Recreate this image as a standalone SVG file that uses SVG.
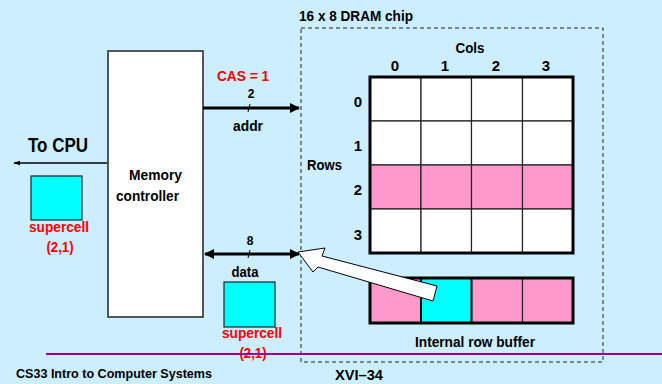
<svg xmlns="http://www.w3.org/2000/svg" width="662" height="384" viewBox="0 0 662 384">
<style>
text{font-family:"Liberation Sans",Arial,sans-serif;font-weight:bold;fill:#000}
.t{font-size:15px}
.red{fill:#ff0000}
.cell{fill:#fff;stroke:#222;stroke-width:1.2}
.pink{fill:#ff99cc}
.sq{fill:#00ffff;stroke:#222;stroke-width:1.2}
.bus{stroke:#000;stroke-width:3;fill:none}
</style>
<defs>
<marker id="ah" viewBox="0 0 10 10" refX="9" refY="5" markerWidth="10" markerHeight="10" markerUnits="userSpaceOnUse" orient="auto-start-reverse">
<path d="M0,0 L10,5 L0,10 z" fill="#000"/>
</marker>
<marker id="ahs" viewBox="0 0 10 10" refX="9" refY="5" markerWidth="7" markerHeight="7" markerUnits="userSpaceOnUse" orient="auto">
<path d="M0,1.5 L10,5 L0,8.5 z" fill="#000"/>
</marker>
</defs>
<rect x="0" y="0" width="662" height="384" fill="#cceeff"/>

<g id="chip">
<rect x="301" y="28" width="302" height="334" fill="none" stroke="#222" stroke-width="1" stroke-dasharray="4,3"/>
<text class="t" x="299" y="21" textLength="114" lengthAdjust="spacingAndGlyphs">16 x 8 DRAM chip</text>
</g>

<g id="array">
<text class="t" x="470" y="53" text-anchor="middle" textLength="29" lengthAdjust="spacingAndGlyphs">Cols</text>
<text class="t" x="395" y="71" text-anchor="middle">0</text>
<text class="t" x="445" y="71" text-anchor="middle">1</text>
<text class="t" x="496" y="71" text-anchor="middle">2</text>
<text class="t" x="546" y="71" text-anchor="middle">3</text>
<text class="t" x="358" y="107" text-anchor="middle">0</text>
<text class="t" x="358" y="151" text-anchor="middle">1</text>
<text class="t" x="358" y="195" text-anchor="middle">2</text>
<text class="t" x="358" y="240" text-anchor="middle">3</text>
<text class="t" x="307" y="170" textLength="35" lengthAdjust="spacingAndGlyphs">Rows</text>
<rect class="cell" x="370" y="77" width="51" height="44"/>
<rect class="cell" x="421" y="77" width="50.5" height="44"/>
<rect class="cell" x="471.5" y="77" width="51" height="44"/>
<rect class="cell" x="522.5" y="77" width="50.5" height="44"/>
<rect class="cell" x="370" y="121" width="51" height="44"/>
<rect class="cell" x="421" y="121" width="50.5" height="44"/>
<rect class="cell" x="471.5" y="121" width="51" height="44"/>
<rect class="cell" x="522.5" y="121" width="50.5" height="44"/>
<rect class="cell pink" x="370" y="165" width="51" height="44"/>
<rect class="cell pink" x="421" y="165" width="50.5" height="44"/>
<rect class="cell pink" x="471.5" y="165" width="51" height="44"/>
<rect class="cell pink" x="522.5" y="165" width="50.5" height="44"/>
<rect class="cell" x="370" y="209" width="51" height="44"/>
<rect class="cell" x="421" y="209" width="50.5" height="44"/>
<rect class="cell" x="471.5" y="209" width="51" height="44"/>
<rect class="cell" x="522.5" y="209" width="50.5" height="44"/>
<rect x="370" y="77" width="203" height="176" fill="none" stroke="#000" stroke-width="3"/>
</g>

<g id="row-buffer">
<rect class="cell pink" x="370" y="278" width="51" height="45"/>
<rect class="cell pink" x="471.5" y="278" width="51" height="45"/>
<rect class="cell pink" x="522.5" y="278" width="50.5" height="45"/>
<rect x="421" y="278" width="50.5" height="45" fill="#00ffff" stroke="#000" stroke-width="2"/>
<rect x="370" y="278" width="203" height="45" fill="none" stroke="#000" stroke-width="3"/>
<text class="t" x="475" y="347" text-anchor="middle" textLength="120" lengthAdjust="spacingAndGlyphs">Internal row buffer</text>
</g>

<g id="memory-controller">
<rect x="108" y="51" width="95" height="266" fill="#fff" stroke="#222" stroke-width="1.5"/>
<text class="t" x="129" y="180" textLength="53" lengthAdjust="spacingAndGlyphs">Memory</text>
<text class="t" x="116" y="201" textLength="63" lengthAdjust="spacingAndGlyphs">controller</text>
</g>

<g id="cpu-supercell">
<rect class="sq" x="31" y="176" width="51" height="44"/>
<text class="t red" x="59" y="232" text-anchor="middle" textLength="60" lengthAdjust="spacingAndGlyphs">supercell</text>
<text class="t red" x="60" y="252" text-anchor="middle" textLength="27" lengthAdjust="spacingAndGlyphs">(2,1)</text>
</g>

<g id="data-supercell">
<rect class="sq" x="224" y="282" width="51" height="45"/>
<text class="t red" x="252" y="338" text-anchor="middle" textLength="60" lengthAdjust="spacingAndGlyphs">supercell</text>
<text class="t red" x="253" y="358" text-anchor="middle" textLength="27" lengthAdjust="spacingAndGlyphs">(2,1)</text>
</g>

<g id="connectors">
<line class="bus" x1="203" y1="108" x2="299" y2="108" marker-end="url(#ah)"/>
<line x1="248" y1="112" x2="250" y2="104" stroke="#000" stroke-width="1"/>
<line class="bus" x1="205" y1="254" x2="299" y2="254" marker-start="url(#ah)" marker-end="url(#ah)"/>
<line x1="248" y1="258" x2="250" y2="250" stroke="#000" stroke-width="1"/>
<line x1="107" y1="163" x2="14" y2="163" stroke="#000" stroke-width="1.5" marker-end="url(#ahs)"/>
<polygon points="298,252 325,248 322,256 437,286 433,301 318,267 313,272" fill="#fff" stroke="#000" stroke-width="1"/>
<text class="red" x="217" y="81" font-size="15" textLength="52" lengthAdjust="spacingAndGlyphs">CAS = 1</text>
<text x="251" y="98" font-size="12" text-anchor="middle">2</text>
<text class="t" x="248" y="131" text-anchor="middle" textLength="30" lengthAdjust="spacingAndGlyphs">addr</text>
<text x="250" y="245" font-size="12" text-anchor="middle">8</text>
<text class="t" x="245" y="277" text-anchor="middle" textLength="27" lengthAdjust="spacingAndGlyphs">data</text>
<text x="28" y="152" font-size="20" textLength="60" lengthAdjust="spacingAndGlyphs">To CPU</text>
</g>

<g id="footer">
<line x1="46" y1="354" x2="662" y2="354" stroke="#990099" stroke-width="2"/>
<text x="16" y="378" font-size="13.5" textLength="196" lengthAdjust="spacingAndGlyphs">CS33 Intro to Computer Systems</text>
<text x="335" y="380" font-size="15" textLength="48" lengthAdjust="spacingAndGlyphs">XVI–34</text>
</g>
</svg>
